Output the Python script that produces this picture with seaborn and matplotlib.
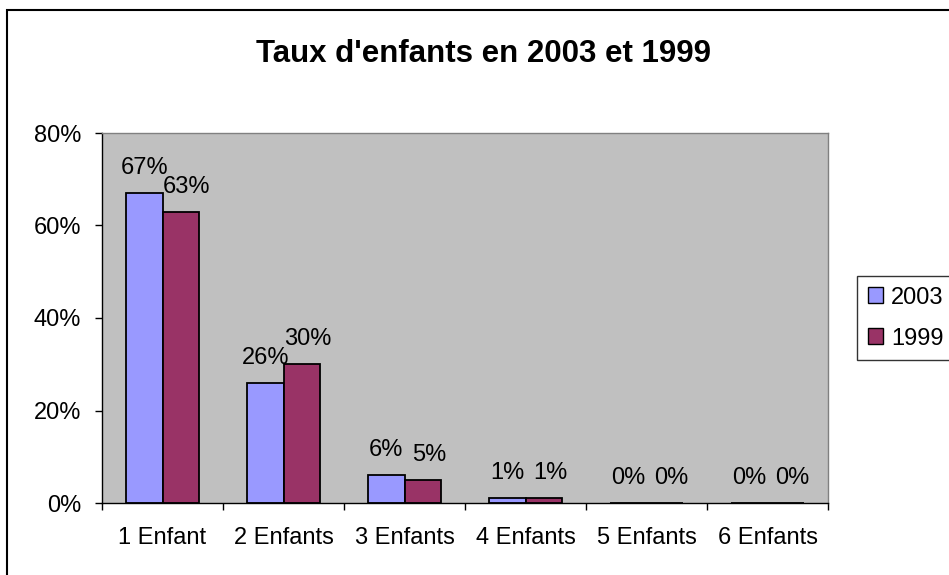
import numpy as np
import pandas as pd
import matplotlib
matplotlib.use('Agg')
import matplotlib.pyplot as plt
import matplotlib.patches as mpatches
import seaborn as sns


categories = ['1 Enfant', '2 Enfants', '3 Enfants', '4 Enfants', '5 Enfants', '6 Enfants']
taux_2003 = [0.67, 0.26, 0.06, 0.01, 0.0, 0.0]
taux_1999 = [0.63, 0.30, 0.05, 0.01, 0.0, 0.0]
annees = ['2003', '1999']
couleurs = ['#9999FF', '#993366']

df = pd.DataFrame({
    'categorie': categories * 2,
    'taux': taux_2003 + taux_1999,
    'annee': ['2003'] * len(categories) + ['1999'] * len(categories),
})

sns.set_style('white')
plt.rcParams['font.family'] = ['Liberation Sans', 'DejaVu Sans']
plt.rcParams['text.color'] = 'black'
plt.rcParams['xtick.color'] = 'black'
plt.rcParams['ytick.color'] = 'black'
fs = 17

fig = plt.figure(figsize=(9.49, 5.75), dpi=100)
ax = fig.add_axes([102 / 949, 1 - 503 / 575, 726 / 949, 370 / 575])
ax.set_facecolor('#C0C0C0')

sns.barplot(data=df, x='categorie', y='taux', hue='annee', hue_order=annees,
            palette=couleurs, width=0.6, edgecolor='black', linewidth=1.3,
            saturation=1, ax=ax, legend=False)

ax.set_ylim(0, 0.8)
ax.set_xlim(-0.5, len(categories) - 0.5)
yt = np.arange(0, 0.81, 0.2)
ax.set_yticks(yt)
ax.set_yticklabels(['%d%%' % round(v * 100) for v in yt])
ax.set_xticks(np.arange(-0.5, len(categories), 1), minor=True)
ax.set_xticks(range(len(categories)))
ax.set_xticklabels(categories)
ax.tick_params(axis='x', which='major', length=0, labelsize=fs, pad=17, labelcolor='black')
ax.tick_params(axis='x', which='minor', length=5, width=1, direction='out', bottom=True, color='black')
ax.tick_params(axis='y', length=5, width=1, direction='out', left=True, labelsize=fs, pad=10,
               color='black', labelcolor='black')
ax.set_xlabel('')
ax.set_ylabel('')

for side in ['top', 'right']:
    ax.spines[side].set_color('#808080')
    ax.spines[side].set_linewidth(1)
for side in ['left', 'bottom']:
    ax.spines[side].set_color('black')
    ax.spines[side].set_linewidth(1)

# 1999 labels sit a little to the right, like in the original
decalage = [0, 4.5]
for cont, dx in zip(ax.containers, decalage):
    for rect, v in zip(cont, cont.datavalues):
        ax.annotate('%d%%' % round(v * 100),
                    (rect.get_x() + rect.get_width() / 2, rect.get_height()),
                    xytext=(dx, 10), textcoords='offset points',
                    ha='center', va='bottom', fontsize=fs, color='black')

handles = [mpatches.Patch(facecolor=c, edgecolor='black', label=a)
           for a, c in zip(annees, couleurs)]
leg = fig.legend(handles=handles, loc='upper left', bbox_to_anchor=(857 / 949, 1 - 276 / 575),
                 frameon=True, fancybox=False, edgecolor='black', fontsize=fs,
                 handlelength=0.65, handleheight=0.65, handletextpad=0.35,
                 borderpad=0.45, labelspacing=0.8, borderaxespad=0)
leg.get_frame().set_linewidth(1)

fig.text(484 / 949, 1 - 62 / 575, "Taux d'enfants en 2003 et 1999",
         ha='center', va='baseline', fontsize=22.5, fontweight='bold', color='black')

fig.patches.append(mpatches.Rectangle((7 / 949, -0.1), 1.1, 1 - 10 / 575 + 0.1,
                                      transform=fig.transFigure, fill=False,
                                      edgecolor='black', linewidth=1.5))

plt.savefig('out.png', dpi=100)
